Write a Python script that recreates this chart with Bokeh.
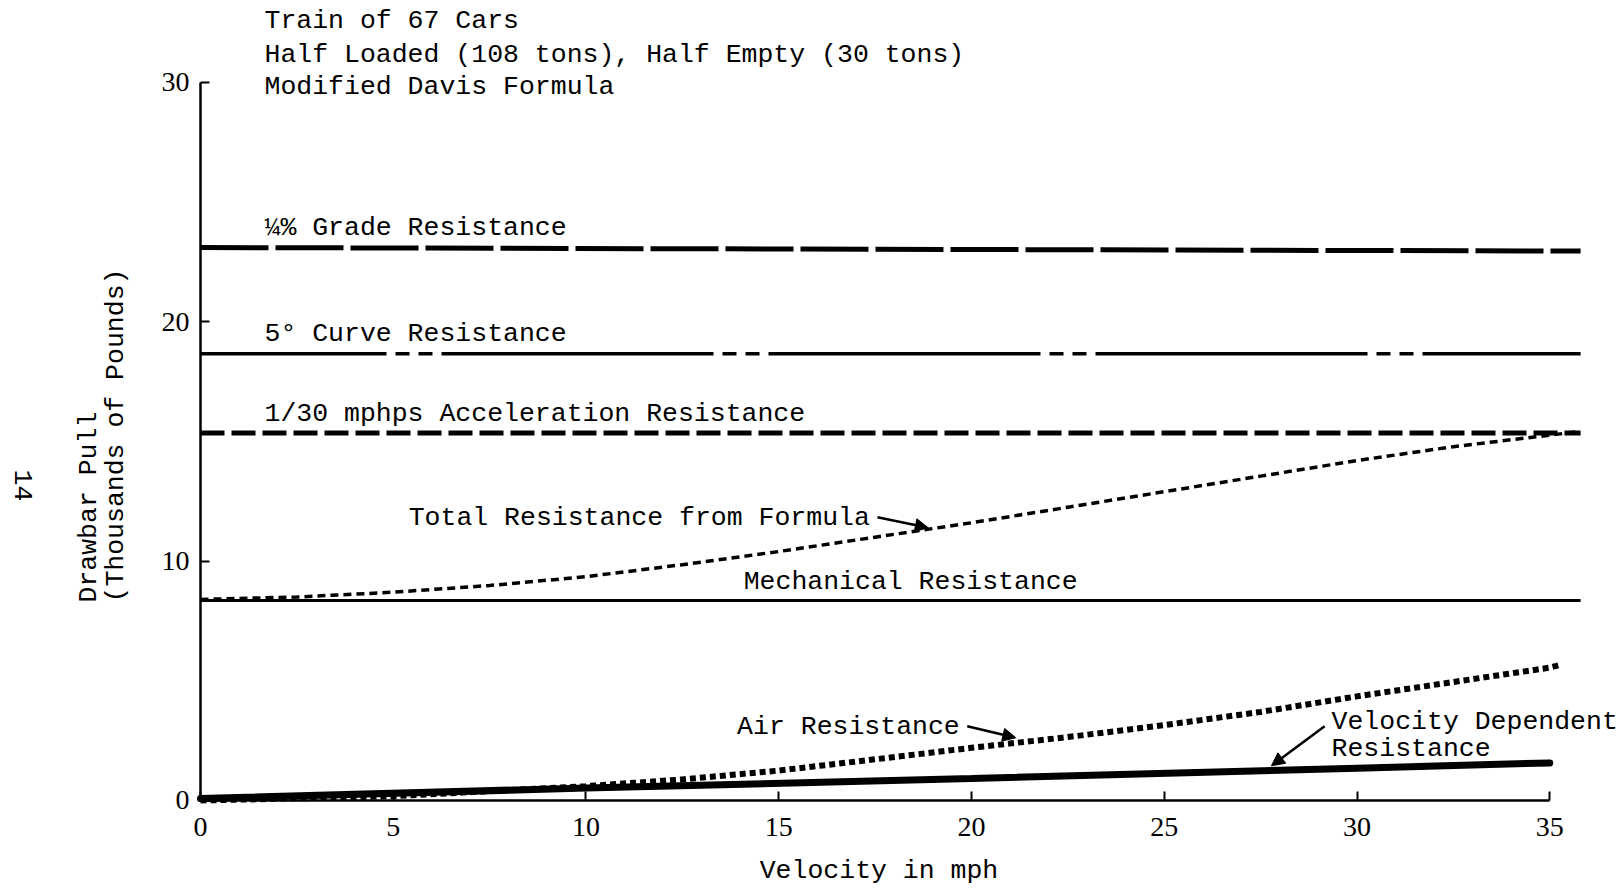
import math
from bokeh.plotting import figure
from bokeh.models import Label, Arrow, NormalHead, FixedTicker, Range1d
from bokeh.embed import file_html
from bokeh.resources import INLINE

# ---------------- data ----------------
title_lines = ["Train of 67 Cars",
               "Half Loaded (108 tons), Half Empty (30 tons)",
               "Modified Davis Formula"]

x_ticks = [0, 5, 10, 15, 20, 25, 30, 35]
y_ticks = [0, 10, 20, 30]

flat_x = [0, 35.8]
grade_y = [23.1, 22.95]          # 1/4% grade resistance
curve_y = [18.66, 18.66]         # 5 degree curve resistance
accel_y = [15.35, 15.35]         # 1/30 mphps acceleration resistance
mech_y = [8.35, 8.35]            # mechanical resistance

total_x = [0, 2.5, 5, 7.5, 10, 12.5, 15, 17.5, 20, 22.5, 25, 27.5, 30, 32.5, 35, 35.7]
total_y = [8.4, 8.5, 8.7, 8.98, 9.35, 9.85, 10.4, 11.0, 11.6, 12.25, 12.9, 13.55,
           14.2, 14.78, 15.26, 15.4]

air_x = [0, 5, 10, 12.5, 15, 17.5, 20, 22.5, 25, 27.5, 30, 32.5, 35, 35.3]
air_y = [0.0, 0.18, 0.6, 0.88, 1.25, 1.72, 2.2, 2.65, 3.15, 3.7, 4.35, 4.95, 5.55, 5.68]

vel_x = [0, 10, 20, 30, 35]
vel_y = [0.08, 0.52, 0.92, 1.35, 1.57]

# ---------------- figure ----------------
MONO = "Liberation Mono"
p = figure(width=1623, height=888,
           x_range=Range1d(-5.188, 36.913), y_range=Range1d(-3.676, 33.417),
           output_backend="svg", toolbar_location=None,
           min_border_left=0, min_border_right=0,
           min_border_top=0, min_border_bottom=0)
p.xgrid.visible = False
p.ygrid.visible = False
p.outline_line_color = None
p.background_fill_color = "white"
p.border_fill_color = "white"

for ax, ticks, bnds in ((p.xaxis, x_ticks, (0, 35)), (p.yaxis, y_ticks, (0, 30))):
    ax.fixed_location = 0
    ax.ticker = FixedTicker(ticks=ticks)
    ax.bounds = bnds
    ax.axis_line_width = 2.5
    ax.axis_line_color = "black"
    ax.major_tick_line_width = 2
    ax.major_tick_line_color = "black"
    ax.major_tick_in = 9
    ax.major_tick_out = 0
    ax.minor_tick_in = 0
    ax.minor_tick_out = 0
    ax.major_label_text_font = "Liberation Serif"
    ax.major_label_text_font_size = "28px"
    ax.major_label_text_color = "black"
p.xaxis.major_label_standoff = 18
p.yaxis.major_label_standoff = 11

# ---------------- lines ----------------
p.line(flat_x, grade_y, line_width=5, line_color="black", line_dash="68 7")
p.line(flat_x, curve_y, line_width=3.5, line_color="black",
       line_dash="272 9 14 9 14 9", line_dash_offset=86)
p.line(flat_x, accel_y, line_width=5, line_color="black", line_dash="24 7")
p.line(flat_x, mech_y, line_width=3, line_color="black")
p.line(total_x, total_y, line_width=3.5, line_color="black", line_dash="8 5")
p.line(air_x, air_y, line_width=6, line_color="black", line_dash="6 4")
p.line(vel_x, vel_y, line_width=7, line_color="black", line_cap="round")

# ---------------- arrows ----------------
arrows = [((17.56, 11.83), (18.88, 11.39)),
          ((19.89, 3.10), (21.15, 2.62)),
          ((29.16, 3.10), (27.78, 1.45))]
for (x0, y0), (x1, y1) in arrows:
    p.add_layout(Arrow(end=NormalHead(size=13, fill_color="black", line_color="black", line_width=1),
                       x_start=x0, y_start=y0, x_end=x1, y_end=y1,
                       line_width=2.5, line_color="black"))

# ---------------- texts ----------------
def lab(x, y, text, size="26.5px", angle=0.0, align="left", font=MONO):
    p.add_layout(Label(x=x, y=y, text=text, text_font=font, text_font_size=size,
                       text_color="black", text_baseline="middle", text_align=align,
                       angle=angle))

for ty, t in zip([32.54, 31.12, 29.82], title_lines):
    lab(1.66, ty, t)

lab(1.66, 23.93, "¼% Grade Resistance")
lab(1.66, 19.5, "5° Curve Resistance")
lab(1.66, 16.16, "1/30 mphps Acceleration Resistance")
lab(5.4, 11.78, "Total Resistance from Formula")
lab(14.09, 9.12, "Mechanical Resistance")
lab(13.92, 3.06, "Air Resistance")
lab(29.34, 3.27, "Velocity Dependent")
lab(29.34, 2.17, "Resistance")

# axis titles
lab(17.6, -2.95, "Velocity in mph", align="center")
lab(-2.905, 8.27, "Drawbar Pull", angle=math.pi / 2)
lab(-2.18, 8.27, "(Thousands of Pounds)", angle=math.pi / 2)
# page number
lab(-4.59, 13.16, "14", angle=-math.pi / 2, align="center")

open("out.html", "w").write(file_html(p, INLINE))
